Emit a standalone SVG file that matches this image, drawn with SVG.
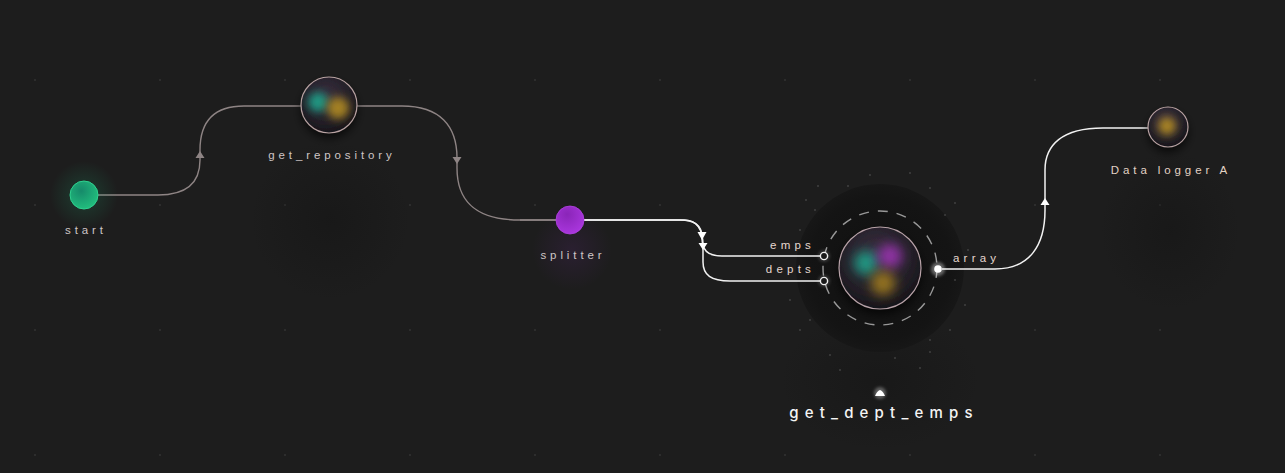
<svg xmlns="http://www.w3.org/2000/svg" width="1285" height="473" viewBox="0 0 1285 473">
<defs>
<style>
.lbl{font-family:"Liberation Sans",Arial,sans-serif;font-size:11.5px;letter-spacing:3.9px;fill:#cfc6c6;text-anchor:middle}
.port{font-family:"Liberation Sans",Arial,sans-serif;font-size:11.5px;letter-spacing:4.2px;fill:#e6d8d0}
.title{font-family:Inter,"Open Sans",sans-serif;font-size:15px;font-weight:500;letter-spacing:6.2px;fill:#f4f4f4;text-anchor:middle}
.grey{fill:none;stroke:#8e8484;stroke-width:1.4}
.white{fill:none;stroke:#f2f2f2;stroke-width:1.5}
.dot{fill:#333}
</style>
<radialGradient id="sphere" cx="45%" cy="35%" r="65%">
<stop offset="0" stop-color="#3a3040"/>
<stop offset="0.7" stop-color="#231f27"/>
<stop offset="1" stop-color="#17151a"/>
</radialGradient>
<radialGradient id="glowG" cx="50%" cy="50%" r="50%">
<stop offset="0" stop-color="#1fb57a" stop-opacity="0.22"/>
<stop offset="1" stop-color="#1fb57a" stop-opacity="0"/>
</radialGradient>
<radialGradient id="glowP" cx="50%" cy="50%" r="50%">
<stop offset="0" stop-color="#8a2fc0" stop-opacity="0.12"/>
<stop offset="1" stop-color="#8a2fc0" stop-opacity="0"/>
</radialGradient>
<radialGradient id="shadow" cx="50%" cy="50%" r="50%">
<stop offset="0" stop-color="#141414" stop-opacity="0.5"/>
<stop offset="1" stop-color="#141414" stop-opacity="0"/>
</radialGradient>
<radialGradient id="halo" cx="50%" cy="50%" r="50%">
<stop offset="0" stop-color="#101010"/>
<stop offset="0.85" stop-color="#141414"/>
<stop offset="1" stop-color="#171717"/>
</radialGradient>
<radialGradient id="greenFill" cx="40%" cy="35%" r="70%">
<stop offset="0" stop-color="#168a6a"/>
<stop offset="1" stop-color="#22c07e"/>
</radialGradient>
<radialGradient id="purpleFill" cx="40%" cy="30%" r="70%">
<stop offset="0" stop-color="#8a25b8"/>
<stop offset="1" stop-color="#a936dd"/>
</radialGradient>
<filter id="blur" x="-50%" y="-50%" width="200%" height="200%"><feGaussianBlur stdDeviation="4"/></filter>
<filter id="blur2" x="-50%" y="-50%" width="200%" height="200%"><feGaussianBlur stdDeviation="6"/></filter>
<filter id="soft" x="-50%" y="-50%" width="200%" height="200%"><feGaussianBlur stdDeviation="1.5"/></filter>
<filter id="drop" x="-50%" y="-50%" width="200%" height="200%"><feDropShadow dx="0" dy="5" stdDeviation="5" flood-color="#000" flood-opacity="0.7"/></filter>
</defs>
<rect width="1285" height="473" fill="#1d1d1d"/>
<g id="grid">
<g class="dot">
<circle cx="35" cy="80" r="1"/><circle cx="160" cy="80" r="1"/><circle cx="285" cy="80" r="1"/><circle cx="410" cy="80" r="1"/><circle cx="535" cy="80" r="1"/><circle cx="660" cy="80" r="1"/><circle cx="785" cy="80" r="1"/><circle cx="910" cy="80" r="1"/><circle cx="1035" cy="80" r="1"/><circle cx="1160" cy="80" r="1"/>
<circle cx="35" cy="205" r="1"/><circle cx="160" cy="205" r="1"/><circle cx="285" cy="205" r="1"/><circle cx="410" cy="205" r="1"/><circle cx="535" cy="205" r="1"/><circle cx="660" cy="205" r="1"/><circle cx="1035" cy="205" r="1"/><circle cx="1160" cy="205" r="1"/>
<circle cx="35" cy="330" r="1"/><circle cx="160" cy="330" r="1"/><circle cx="285" cy="330" r="1"/><circle cx="410" cy="330" r="1"/><circle cx="535" cy="330" r="1"/><circle cx="660" cy="330" r="1"/><circle cx="1035" cy="330" r="1"/><circle cx="1160" cy="330" r="1"/>
<circle cx="35" cy="455" r="1"/><circle cx="160" cy="455" r="1"/><circle cx="285" cy="455" r="1"/><circle cx="410" cy="455" r="1"/><circle cx="535" cy="455" r="1"/><circle cx="660" cy="455" r="1"/><circle cx="785" cy="455" r="1"/><circle cx="910" cy="455" r="1"/><circle cx="1035" cy="455" r="1"/><circle cx="1160" cy="455" r="1"/>
</g>
</g>
<g id="shadows">
<ellipse cx="330" cy="220" rx="80" ry="80" fill="url(#shadow)"/>
<ellipse cx="1170" cy="230" rx="70" ry="80" fill="url(#shadow)"/>
<ellipse cx="880" cy="380" rx="100" ry="70" fill="url(#shadow)"/>
</g>
<g id="n-get_dept_emps-halo">
<circle cx="880" cy="268" r="84" fill="url(#halo)"/>
<g fill="#5a5a5a">
<circle cx="806" cy="200" r="0.8"/><circle cx="818" cy="186" r="0.8"/><circle cx="930" cy="188" r="0.8"/><circle cx="955" cy="203" r="0.8"/><circle cx="968" cy="250" r="0.8"/><circle cx="965" cy="305" r="0.8"/><circle cx="950" cy="330" r="0.8"/><circle cx="930" cy="352" r="0.8"/><circle cx="895" cy="358" r="0.8"/><circle cx="830" cy="355" r="0.8"/><circle cx="800" cy="330" r="0.8"/><circle cx="790" cy="300" r="0.8"/><circle cx="815" cy="210" r="0.8"/><circle cx="870" cy="175" r="0.8"/><circle cx="910" cy="173" r="0.8"/><circle cx="945" cy="215" r="0.8"/><circle cx="955" cy="280" r="0.8"/><circle cx="800" cy="230" r="0.8"/><circle cx="848" cy="186" r="0.8"/><circle cx="930" cy="340" r="0.8"/><circle cx="810" cy="320" r="0.8"/><circle cx="840" cy="370" r="0.8"/><circle cx="920" cy="368" r="0.8"/>
</g>
<circle cx="880" cy="268" r="57" fill="none" stroke="#b0b0b0" stroke-width="1.4" stroke-dasharray="10 9" opacity="0.85"/>
</g>
<g id="connectors">
<path class="grey" d="M98,195 H158 C188,195 200,182 200,160 V150 C200,122 214,106 244,106 H301"/>
<path d="M200,151 L204.5,158 H195.5 Z" fill="#8e8484"/>
<path class="grey" d="M357,106 H402 C440,106 457,126 457,158 V168 C457,200 474,220 520,220 H556"/>
<path d="M452.5,157 H461.5 L457,164 Z" fill="#8e8484"/>
<path class="grey" d="M520,220 H556" stroke="#b8a8a8"/>
<path class="white" d="M584,220 H680 C695,220 702,226 702,237 C702,250 707,256 722,256 H820"/>
<path class="white" d="M584,220 H684 C698,220 703,230 703,246 V262 C703,275 711,281 730,281 H820"/>
<path d="M697.5,232 H706.5 L702,240 Z" fill="#ffffff"/>
<path d="M698.5,243 H707.5 L703,250 Z" fill="#ffffff"/>
<path class="white" d="M942,269 H995 C1030,269 1045,245 1045,210 V170 C1045,145 1062,128 1103,128 H1148"/>
<path d="M1045,198 L1049.5,205 H1040.5 Z" fill="#ffffff"/>
</g>
<g id="n-start">
<circle cx="84" cy="195" r="34" fill="url(#glowG)"/>
<circle cx="84" cy="195" r="14" fill="url(#greenFill)" stroke="#2fd08f" stroke-width="1"/>
<text class="lbl" x="86" y="234">start</text>
</g>
<g id="n-get_repository">
<circle cx="329" cy="105" r="28" fill="url(#sphere)" filter="url(#drop)"/>
<circle cx="318" cy="102" r="10" fill="#1fa38a" filter="url(#blur)" opacity="0.9"/>
<circle cx="338" cy="108" r="11" fill="#b08a22" filter="url(#blur)" opacity="0.9"/>
<circle cx="329" cy="105" r="28" fill="none" stroke="#b8a2a2" stroke-width="1.2"/>
<text class="lbl" x="332" y="159">get_repository</text>
</g>
<g id="n-splitter">
<ellipse cx="572" cy="250" rx="40" ry="40" fill="url(#glowP)"/>
<circle cx="570" cy="220" r="14" fill="url(#purpleFill)" stroke="#b040e0" stroke-width="0.8"/>
<text class="lbl" x="573" y="259">splitter</text>
</g>
<g id="n-get_dept_emps">
<circle cx="880" cy="268" r="41" fill="url(#sphere)" filter="url(#drop)"/>
<circle cx="866" cy="263" r="12" fill="#1fa38a" filter="url(#blur2)" opacity="0.9"/>
<circle cx="890" cy="256" r="12" fill="#9a35b0" filter="url(#blur2)" opacity="0.9"/>
<circle cx="883" cy="283" r="12" fill="#a07c1e" filter="url(#blur2)" opacity="0.9"/>
<circle cx="880" cy="268" r="41" fill="none" stroke="#b8a2a8" stroke-width="1.2"/>
<circle cx="824" cy="256" r="6" fill="#ffffff" opacity="0.15" filter="url(#soft)"/>
<circle cx="824" cy="281" r="6" fill="#ffffff" opacity="0.15" filter="url(#soft)"/>
<circle cx="824" cy="256" r="3.6" fill="#1a1a1a" stroke="#f0f0f0" stroke-width="1.4"/>
<circle cx="824" cy="281" r="3.6" fill="#1a1a1a" stroke="#f0f0f0" stroke-width="1.4"/>
<circle cx="938" cy="269" r="7" fill="#ffffff" opacity="0.35" filter="url(#soft)"/>
<circle cx="938" cy="269" r="3.8" fill="#ffffff"/>
<text class="port" x="815" y="249" text-anchor="end">emps</text>
<text class="port" x="815" y="273" text-anchor="end">depts</text>
<text class="port" x="953" y="262">array</text>
<circle cx="880" cy="393" r="6" fill="#ffffff" opacity="0.3" filter="url(#soft)"/>
<path d="M875,396 Q877,391 880,390 Q883,391 885,396 Z" fill="#ffffff"/>
<text class="title" x="884" y="418">get_dept_emps</text>
</g>
<g id="n-data_logger_a">
<circle cx="1168" cy="127" r="20" fill="url(#sphere)" filter="url(#drop)"/>
<circle cx="1167" cy="126" r="9" fill="#b08a22" filter="url(#blur)" opacity="0.95"/>
<circle cx="1168" cy="127" r="20" fill="none" stroke="#b8a2a2" stroke-width="1.2"/>
<text class="lbl" x="1171" y="174" style="fill:#e2d2c4">Data logger A</text>
</g>
</svg>
